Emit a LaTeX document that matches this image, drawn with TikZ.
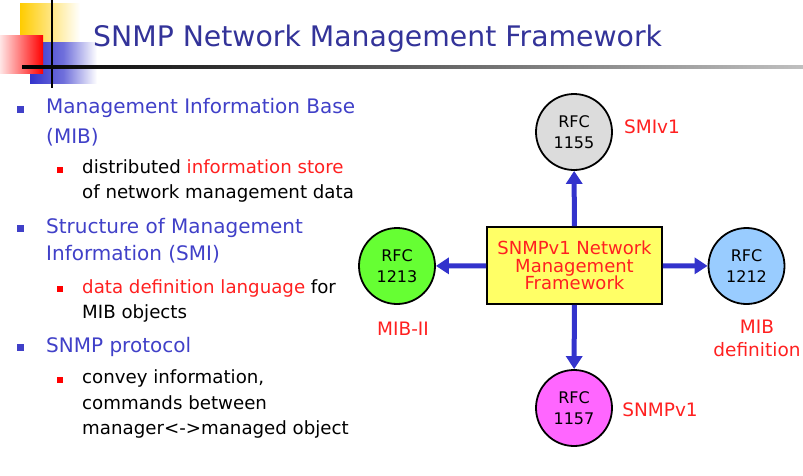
\documentclass[tikz,border=0pt]{standalone}
\usepackage{fontspec}
\setmainfont{DejaVu Sans}
\usetikzlibrary{arrows.meta}
\definecolor{titleblue}{RGB}{51,51,153}
\definecolor{bulblue}{RGB}{64,64,200}
\definecolor{txtred}{RGB}{255,32,32}
\definecolor{arrblue}{RGB}{51,51,204}
\definecolor{boxyellow}{RGB}{255,255,102}
\definecolor{cgray}{RGB}{220,220,220}
\definecolor{cgreen}{RGB}{102,255,51}
\definecolor{cblue}{RGB}{153,204,255}
\definecolor{cmag}{RGB}{255,102,255}
\definecolor{sqyellow}{RGB}{255,204,0}
\definecolor{sqblue}{RGB}{51,51,204}
\begin{document}
\begin{tikzpicture}[x=1pt,y=-1pt,
  mainitem/.style={anchor=base west, inner sep=0pt, text=bulblue, font=\fontsize{20}{24}\selectfont},
  subitem/.style={anchor=base west, inner sep=0pt, text=black, font=\fontsize{18.2}{22}\selectfont},
  mainbul/.style={fill=bulblue, minimum size=7pt, inner sep=0pt},
  subbul/.style={fill=red, minimum size=5.5pt, inner sep=0pt},
  rfc/.style={circle, draw=black, line width=1.8pt, minimum size=76pt, inner sep=0pt, align=center, font=\fontsize{16}{21}\selectfont},
  lbl/.style={text=txtred, align=center, font=\fontsize{18.5}{23}\selectfont},
  conn/.style={draw=arrblue, line width=5pt, -{Triangle[width=16pt,length=13pt]}}
]
\useasboundingbox (0,0) rectangle (803,475);
% decorative squares
\shade[left color=sqyellow, right color=white] (20,3) rectangle (80,42);
\shade[left color=sqblue, right color=white, middle color=sqblue!70] (30,42) rectangle (97,83);
\shade[left color=red!10, right color=red] (0,35) rectangle (43,73);
\draw[line width=2pt] (52,0) -- (52,88);
\shade[left color=black, right color=black!25] (22,65.5) rectangle (803,68);
% title
\node[anchor=base west, inner sep=0pt, text=titleblue, font=\fontsize{28.3}{32}\selectfont] (title) at (93,46) {SNMP Network Management Framework};
% bullets
\node[mainbul] (b1) at (20,109) {};
\node[mainitem] (t1a) at (46,113) {Management Information Base};
\node[mainitem] (t1b) at (46,143) {(MIB)};
\node[subbul] (s1) at (60,170) {};
\node[subitem] (u1a) at (82,173) {distributed \textcolor{txtred}{information store}};
\node[subitem] (u1b) at (82,198) {of network management data};
\node[mainbul] (b2) at (20,228) {};
\node[mainitem] (t2a) at (46,233) {Structure of Management};
\node[mainitem] (t2b) at (46,260) {Information (SMI)};
\node[subbul] (s2) at (60,289) {};
\node[subitem] (u2a) at (82,293) {\textcolor{txtred}{data definition language} for};
\node[subitem] (u2b) at (82,318) {MIB objects};
\node[mainbul] (b3) at (20,347) {};
\node[mainitem] (t3a) at (46,352) {SNMP protocol};
\node[subbul] (s3) at (60,380) {};
\node[subitem] (u3a) at (82,383) {convey information,};
\node[subitem] (u3b) at (82,409) {commands between};
\node[subitem] (u3c) at (82,434) {manager<->managed object};
% diagram
\node[draw=black, line width=1.8pt, fill=boxyellow, minimum width=175pt, minimum height=77pt, text=txtred, align=center, font=\fontsize{18}{17.5}\selectfont] (fw) at (574.5,265.5) {SNMPv1 Network\\Management\\Framework};
\node[rfc, fill=cgray] (r1155) at (574,132) {RFC\\1155};
\node[rfc, fill=cgreen] (r1213) at (397,266) {RFC\\1213};
\node[rfc, fill=cblue] (r1212) at (746.5,266) {RFC\\1212};
\node[rfc, fill=cmag] (r1157) at (574,408) {RFC\\1157};
\draw[conn] (fw) -- (r1155);
\draw[conn] (fw) -- (r1213);
\draw[conn] (fw) -- (r1212);
\draw[conn] (fw) -- (r1157);
\node[lbl] (l1155) at (652,127) {SMIv1};
\node[lbl] (l1213) at (403,329) {MIB-II};
\node[lbl] (l1212) at (757,338) {MIB\\definition};
\node[lbl] (l1157) at (660,410) {SNMPv1};
\end{tikzpicture}
\end{document}
